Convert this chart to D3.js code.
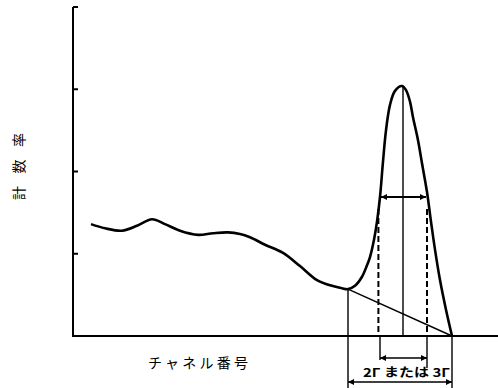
<!DOCTYPE html>
<html>
<head>
  <meta charset="utf-8">
  <script src="https://d3js.org/d3.v7.min.js"></script>
  <style>
    body { margin: 0; background: #fff; }
    svg { display: block; }
    .axis { stroke: #000; stroke-width: 2; fill: none; }
    .curve { stroke: #000; stroke-width: 2.6; fill: none; }
    .thin { stroke: #000; stroke-width: 1.4; fill: none; }
    .dash { stroke: #000; stroke-width: 2; fill: none; stroke-dasharray: 6 3; }
    text { font-family: "Noto Sans CJK JP", "DejaVu Serif", serif; fill: #000; }
  </style>
</head>
<body>
<script>
var width = 498, height = 388;

// spectrum (channel, count rate)
var channel = [4.5, 8, 12.25, 16, 19.75, 23, 26.75, 31.25, 35, 38.75, 41.75, 44.25, 48, 52.5,
  56.75, 61, 64.75, 67.25, 68.75, 70.5, 72.25, 73.5, 74.25, 75.25, 76, 76.75, 77.5, 78.25,
  79.25, 80.5, 82.25, 83.25, 84.25, 85, 86.25, 87.25, 88.5, 89.5, 90.5, 91.75, 93.25, 94.75];
var counts = [1.36, 1.31, 1.28, 1.34, 1.42, 1.36, 1.28, 1.23, 1.25, 1.26, 1.24, 1.20, 1.11, 1.01,
  0.85, 0.68, 0.61, 0.58, 0.57, 0.61, 0.72, 0.86, 0.96, 1.17, 1.39, 1.69, 2.12, 2.50,
  2.81, 2.98, 3.04, 2.99, 2.85, 2.66, 2.38, 2.10, 1.75, 1.39, 1.05, 0.68, 0.32, 0];

var yTicks = [1, 2, 3, 4];

// peak markers
var footLeft = [68.75, 0.57], footRight = [94.75, 0];
var peakCh = 82.5, peakTop = 3.03;
var halfCount = 1.69, fwhmLeft = 76.75, fwhmRight = 88.5;

var xLabel = "チャネル番号", yLabel = "計数率", widthLabel = "2Γ または 3Γ";

var x = d3.scaleLinear().domain([0, 106]).range([73, 497]);
var y = d3.scaleLinear().domain([0, 4]).range([336, 7]);

var svg = d3.select("body").append("svg")
  .attr("width", width).attr("height", height);

var defs = svg.append("defs");
defs.append("marker").attr("id", "ah")
  .attr("viewBox", "0 0 10 10").attr("refX", 10).attr("refY", 5)
  .attr("markerWidth", 7).attr("markerHeight", 6)
  .attr("markerUnits", "userSpaceOnUse")
  .attr("orient", "auto-start-reverse")
  .append("path").attr("d", "M0,0L10,5L0,10Z").attr("fill", "#000");

// axes
svg.append("path").attr("class", "axis")
  .attr("d", "M" + x(0) + "," + y(4) + "V" + y(0) + "H" + width);
svg.selectAll(".tick").data(yTicks).enter().append("line")
  .attr("class", "axis")
  .attr("x1", x(0)).attr("x2", x(0) + 5)
  .attr("y1", d => y(d)).attr("y2", d => y(d));

// spectrum
var line = d3.line().x(d => x(d[0])).y(d => y(d[1])).curve(d3.curveCatmullRom.alpha(0.5));
svg.append("path").attr("class", "curve")
  .attr("d", line(channel.map((c, i) => [c, counts[i]])));

// background line under the peak
svg.append("line").attr("class", "thin")
  .attr("x1", x(footLeft[0])).attr("y1", y(footLeft[1]))
  .attr("x2", x(footRight[0])).attr("y2", y(footRight[1]));
svg.append("line").attr("class", "thin")
  .attr("x1", x(footLeft[0])).attr("y1", y(footLeft[1]))
  .attr("x2", x(footLeft[0])).attr("y2", y(0) + 52);
svg.append("line").attr("class", "thin")
  .attr("x1", x(footRight[0])).attr("y1", y(0))
  .attr("x2", x(footRight[0])).attr("y2", y(0) + 52);

// centre line
svg.append("line").attr("class", "thin")
  .attr("x1", x(peakCh)).attr("y1", y(peakTop))
  .attr("x2", x(peakCh)).attr("y2", y(0));

// half width arrow
svg.append("line").attr("class", "axis")
  .attr("x1", x(peakCh)).attr("x2", x(fwhmLeft) + 1)
  .attr("y1", y(halfCount)).attr("y2", y(halfCount))
  .attr("marker-end", "url(#ah)");
svg.append("line").attr("class", "axis")
  .attr("x1", x(peakCh)).attr("x2", x(fwhmRight) - 1)
  .attr("y1", y(halfCount)).attr("y2", y(halfCount))
  .attr("marker-end", "url(#ah)");

// dashed drops
[fwhmLeft - 0.4, fwhmRight].forEach(function(c) {
  svg.append("line").attr("class", "dash")
    .attr("x1", x(c)).attr("x2", x(c))
    .attr("y1", y(halfCount) + 12).attr("y2", y(0));
});
svg.append("line").attr("class", "thin")
  .attr("x1", x(fwhmLeft)).attr("x2", x(fwhmLeft))
  .attr("y1", y(0)).attr("y2", y(0) + 24);
svg.append("line").attr("class", "thin")
  .attr("x1", x(fwhmRight)).attr("x2", x(fwhmRight))
  .attr("y1", y(0)).attr("y2", y(0) + 32);

// small arrow (Γ)
svg.append("line").attr("class", "thin")
  .attr("x1", x(fwhmLeft)).attr("x2", x(fwhmRight))
  .attr("y1", y(0) + 22).attr("y2", y(0) + 22)
  .attr("marker-start", "url(#ah)").attr("marker-end", "url(#ah)");

// big arrow (2Γ or 3Γ)
svg.append("line").attr("class", "thin")
  .attr("x1", x(footLeft[0])).attr("x2", x(footRight[0]))
  .attr("y1", y(0) + 46).attr("y2", y(0) + 46)
  .attr("marker-start", "url(#ah)").attr("marker-end", "url(#ah)");

svg.append("text")
  .attr("x", 363).attr("y", y(0) + 41)
  .attr("font-size", 12).attr("font-weight", "bold")
  .attr("textLength", 87).attr("lengthAdjust", "spacingAndGlyphs")
  .text(widthLabel);

// axis titles
svg.append("text")
  .attr("x", 148).attr("y", 368)
  .attr("font-size", 14)
  .attr("textLength", 100).attr("lengthAdjust", "spacing")
  .text(xLabel);

svg.append("text")
  .attr("transform", "translate(24,200) rotate(-90)")
  .attr("font-size", 14)
  .attr("textLength", 67).attr("lengthAdjust", "spacing")
  .text(yLabel);
</script>
</body>
</html>
